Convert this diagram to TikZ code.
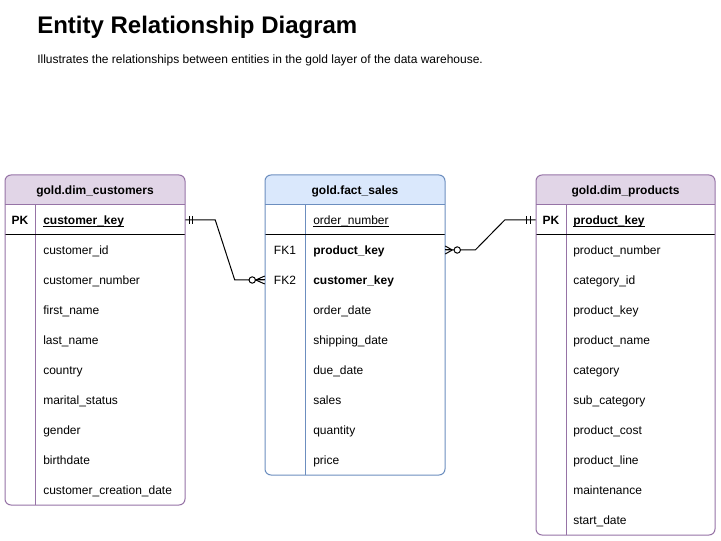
\documentclass[tikz,border=0pt]{standalone}
\usepackage{fontspec}
\setmainfont{Liberation Sans}
\usetikzlibrary{calc}
\definecolor{purpfill}{HTML}{E1D5E7}
\definecolor{purpdraw}{HTML}{9673A6}
\definecolor{bluefill}{HTML}{DAE8FC}
\definecolor{bluedraw}{HTML}{6C8EBF}
\newcommand{\keyuline}[1]{\underline{\smash{#1}}}
\tikzset{
  px/.style={x=0.75pt,y=-0.75pt},
  rowtxt/.style={font=\fontsize{9}{11}\selectfont, anchor=west, inner sep=0pt, text height=6.45pt, text depth=0pt},
  keytxt/.style={font=\fontsize{9}{11}\selectfont, anchor=center, inner sep=0pt, text height=6.45pt, text depth=0pt},
  hdrtxt/.style={font=\bfseries\fontsize{9}{11}\selectfont, anchor=center, inner sep=0pt, text height=6.45pt, text depth=0pt},
  rowbox/.style={inner sep=0pt, minimum height=22.5pt, draw=none},
  conn/.style={draw=black, line width=0.75pt},
}
\begin{document}
\begin{tikzpicture}[px]
\useasboundingbox[fill=white] (0,0) rectangle (721,541);

% title
\node[anchor=base west, inner sep=0pt, font=\bfseries\fontsize{18}{22}\selectfont] (title) at (37,33.3) {Entity Relationship Diagram};
\node[anchor=base west, inner sep=0pt, font=\fontsize{9}{11}\selectfont] (subtitle) at (37,63.5) {Illustrates the relationships between entities in the gold layer of the data warehouse.};

% ---------- customers table ----------
\begin{scope}
  \clip[rounded corners=4.5pt] (5,175) rectangle (185,505);
  \fill[white] (5,175) rectangle (185,505);
  \fill[purpfill] (5,175) rectangle (185,205);
\end{scope}
\draw[purpdraw, line width=0.75pt] (5,205) -- (185,205);
\draw[purpdraw, line width=0.75pt] (35,205) -- (35,505);
\draw[black, line width=0.75pt] (5,235) -- (185,235);
\draw[purpdraw, line width=0.75pt, rounded corners=4.5pt] (5,175) rectangle (185,505);
\node[hdrtxt] (cuh) at (95,190) {gold.dim\_customers};
\node[rowbox, minimum width=135pt] (cukey) at (95,220) {};
\node[keytxt, font=\bfseries\fontsize{9}{11}\selectfont] (cupk) at (20,220) {PK};
\node[rowtxt, font=\bfseries\fontsize{9}{11}\selectfont] (cu1) at (43,220) {\keyuline{customer\_key}};
\node[rowtxt] (cu2) at (43,250) {customer\_id};
\node[rowtxt] (cu3) at (43,280) {customer\_number};
\node[rowtxt] (cu4) at (43,310) {first\_name};
\node[rowtxt] (cu5) at (43,340) {last\_name};
\node[rowtxt] (cu6) at (43,370) {country};
\node[rowtxt] (cu7) at (43,400) {marital\_status};
\node[rowtxt] (cu8) at (43,430) {gender};
\node[rowtxt] (cu9) at (43,460) {birthdate};
\node[rowtxt] (cu10) at (43,490) {customer\_creation\_date};

% ---------- fact_sales table ----------
\begin{scope}
  \clip[rounded corners=4.5pt] (265,175) rectangle (445,475);
  \fill[white] (265,175) rectangle (445,475);
  \fill[bluefill] (265,175) rectangle (445,205);
\end{scope}
\draw[bluedraw, line width=0.75pt] (265,205) -- (445,205);
\draw[bluedraw, line width=0.75pt] (305,205) -- (305,475);
\draw[black, line width=0.75pt] (265,235) -- (445,235);
\draw[bluedraw, line width=0.75pt, rounded corners=4.5pt] (265,175) rectangle (445,475);
\node[hdrtxt] (fsh) at (355,190) {gold.fact\_sales};
\node[rowbox, minimum width=135pt] (fsprod) at (355,250) {};
\node[rowbox, minimum width=135pt] (fscust) at (355,280) {};
\node[rowtxt] (fs1) at (313,220) {\keyuline{order\_number}};
\node[keytxt] (fk1) at (285,250) {FK1};
\node[rowtxt, font=\bfseries\fontsize{9}{11}\selectfont] (fs2) at (313,250) {product\_key};
\node[keytxt] (fk2) at (285,280) {FK2};
\node[rowtxt, font=\bfseries\fontsize{9}{11}\selectfont] (fs3) at (313,280) {customer\_key};
\node[rowtxt] (fs4) at (313,310) {order\_date};
\node[rowtxt] (fs5) at (313,340) {shipping\_date};
\node[rowtxt] (fs6) at (313,370) {due\_date};
\node[rowtxt] (fs7) at (313,400) {sales};
\node[rowtxt] (fs8) at (313,430) {quantity};
\node[rowtxt] (fs9) at (313,460) {price};

% ---------- products table ----------
\begin{scope}
  \clip[rounded corners=4.5pt] (536,175) rectangle (715,535);
  \fill[white] (536,175) rectangle (715,535);
  \fill[purpfill] (536,175) rectangle (715,205);
\end{scope}
\draw[purpdraw, line width=0.75pt] (536,205) -- (715,205);
\draw[purpdraw, line width=0.75pt] (566,205) -- (566,535);
\draw[black, line width=0.75pt] (536,235) -- (715,235);
\draw[purpdraw, line width=0.75pt, rounded corners=4.5pt] (536,175) rectangle (715,535);
\node[hdrtxt] (prh) at (625.5,190) {gold.dim\_products};
\node[rowbox, minimum width=134.25pt] (prkey) at (625.5,220) {};
\node[keytxt, font=\bfseries\fontsize{9}{11}\selectfont] (prpk) at (551,220) {PK};
\node[rowtxt, font=\bfseries\fontsize{9}{11}\selectfont] (pr1) at (573,220) {\keyuline{product\_key}};
\node[rowtxt] (pr2) at (573,250) {product\_number};
\node[rowtxt] (pr3) at (573,280) {category\_id};
\node[rowtxt] (pr4) at (573,310) {product\_key};
\node[rowtxt] (pr5) at (573,340) {product\_name};
\node[rowtxt] (pr6) at (573,370) {category};
\node[rowtxt] (pr7) at (573,400) {sub\_category};
\node[rowtxt] (pr8) at (573,430) {product\_cost};
\node[rowtxt] (pr9) at (573,460) {product\_line};
\node[rowtxt] (pr10) at (573,490) {maintenance};
\node[rowtxt] (pr11) at (573,520) {start\_date};

% ---------- connector 1: customers (one) -> fact (zero or many) ----------
\draw[conn] (cukey.east) -- ++(30,0) -- ($(fscust.west)+(-30,0)$) -- (fscust.west);
\draw[conn] ($(cukey.east)+(4,-4)$) -- ++(0,8);
\draw[conn] ($(cukey.east)+(7,-4)$) -- ++(0,8);
\draw[conn] ($(fscust.west)+(-9,0)$) -- ($(fscust.west)+(0,-4)$);
\draw[conn] ($(fscust.west)+(-9,0)$) -- (fscust.west);
\draw[conn] ($(fscust.west)+(-9,0)$) -- ($(fscust.west)+(0,4)$);
\draw[conn, fill=white] ($(fscust.west)+(-12.5,0)$) circle[radius=2.4pt];

% ---------- connector 2: fact (zero or many) -> products (one) ----------
\draw[conn] (fsprod.east) -- ++(30,0) -- ($(prkey.west)+(-31,0)$) -- (prkey.west);
\draw[conn] ($(fsprod.east)+(7,0)$) -- ($(fsprod.east)+(0,-4)$);
\draw[conn] ($(fsprod.east)+(7,0)$) -- (fsprod.east);
\draw[conn] ($(fsprod.east)+(7,0)$) -- ($(fsprod.east)+(0,4)$);
\draw[conn, fill=white] ($(fsprod.east)+(12,0)$) circle[radius=2.4pt];
\draw[conn] ($(prkey.west)+(-9,-4)$) -- ++(0,8);
\draw[conn] ($(prkey.west)+(-5.5,-4)$) -- ++(0,8);
\end{tikzpicture}
\end{document}
